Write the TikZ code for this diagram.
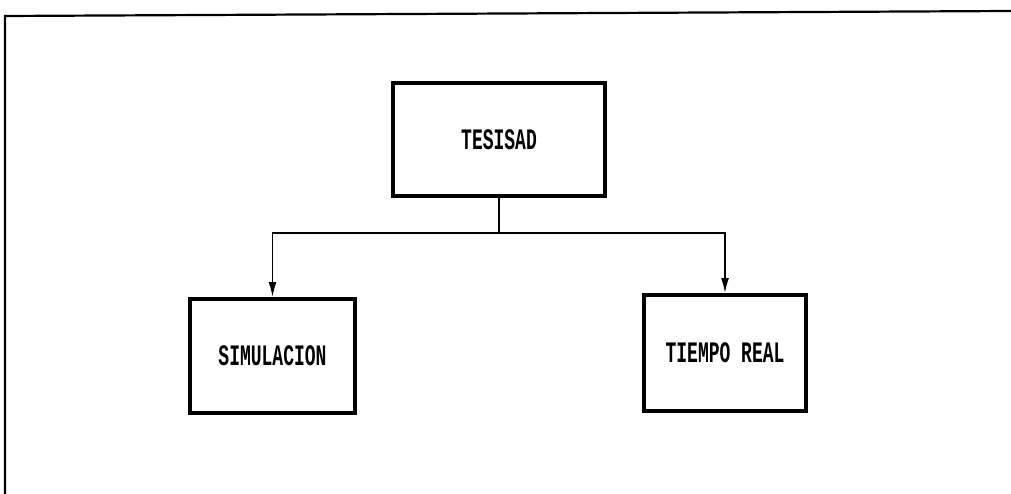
\documentclass[tikz,border=0pt]{standalone}
\usepackage{fontspec}
\usepackage{graphicx}
\newfontfamily\boxfont{Liberation Mono}
\usetikzlibrary{arrows.meta}
\tikzset{
  blockbox/.style={draw=black, line width=4pt, fill=white, inner sep=0pt,
    font=\boxfont\bfseries\fontsize{18}{18}\selectfont},
  link/.style={draw=black, line width=1.6pt},
  linkarrow/.style={link, -{Latex[length=15pt,width=8pt]}},
  frameline/.style={draw=black, line width=2.2pt}
}
\newcommand{\tall}[1]{\scalebox{1}[1.65]{#1}}
\begin{document}
\begin{tikzpicture}[x=1pt,y=-1pt]
\useasboundingbox (0,0) rectangle (1011,494);
\fill[white] (0,0) rectangle (1011,494);
% outer frame (top and left edges visible)
\coordinate (fbl) at (5,494);
\coordinate (ftl) at (5,16);
\coordinate (ftr) at (1011,11);
\draw[frameline] (fbl) -- (ftl) -- (ftr);
% boxes
\node[blockbox, minimum width=212pt, minimum height=113pt] (tesisad) at (499,139.5) {\tall{TESISAD}};
\node[blockbox, minimum width=165pt, minimum height=114pt] (sim) at (272.5,356) {\tall{SIMULACION}};
\node[blockbox, minimum width=162pt, minimum height=116pt] (real) at (725,353) {\tall{TIEMPO REAL}};
% connectors
\coordinate (j) at (499,233);
\draw[link] (tesisad.south) -- (j);
\draw[linkarrow] (j) -| (sim.north);
\draw[linkarrow] (j) -| (real.north);
\end{tikzpicture}
\end{document}
